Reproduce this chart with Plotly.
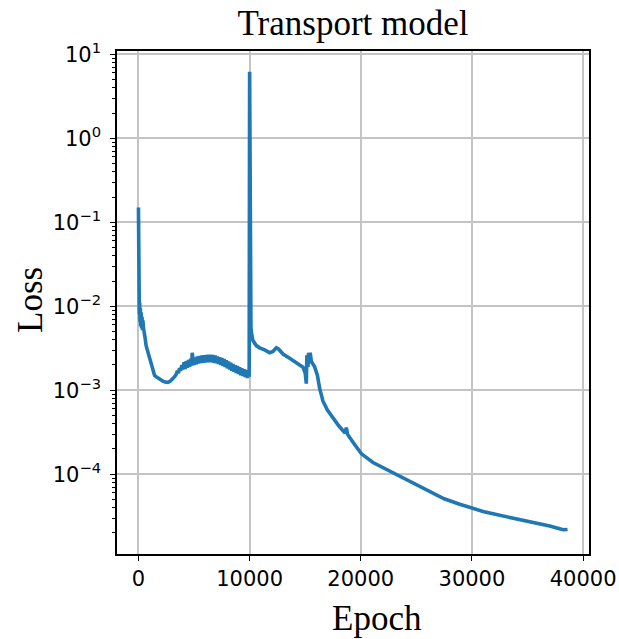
import plotly.graph_objects as go

# ---- data ----
epochs = [
    0, 15, 30, 50, 80, 110, 140, 170, 200, 240, 280, 320, 360, 400, 450, 520,
    600, 690, 800, 900, 1000, 1140, 1300, 1450, 1600, 1800, 2000, 2200, 2400,
    2640, 2850, 3050, 3250, 3400,
    3500, 3600, 3700, 3800, 3900, 4000, 4100, 4200, 4300, 4400, 4500, 4600,
    4700, 4800, 4830, 4900, 5000, 5100, 5200, 5300, 5400, 5500, 5600, 5700,
    5800, 5900, 6000, 6100, 6200, 6300, 6400, 6500, 6600, 6700, 6800, 6900,
    7000, 7100, 7200, 7300, 7400, 7500, 7600, 7700, 7800, 7900, 8000, 8100,
    8200, 8300, 8400, 8500, 8600, 8700, 8800, 8900, 9000, 9100, 9200, 9300,
    9400, 9500, 9600, 9700, 9800, 9900, 9960,
    10000, 10020, 10050, 10080, 10120, 10200, 10300, 10600, 10900, 11400,
    11800, 12100, 12400, 12600, 13000, 13600, 14200, 14800, 15000, 15100,
    15150, 15250, 15300, 15400, 15450, 15550, 15850, 16100, 16300, 16600,
    17000, 17500, 18000, 18400, 18600, 18700, 18800, 19300, 20060, 21100,
    22000, 22900, 24000, 25000, 26500, 27500, 28900, 30100, 31000, 32000,
    33100, 34000, 35000, 36100, 37000, 37800, 38200, 38600,
]
loss = [
    0.15, 0.05, 0.02, 0.012, 0.0080, 0.011, 0.0065, 0.0095, 0.0058, 0.0085,
    0.0055, 0.0075, 0.0052, 0.0068, 0.0055, 0.0050,
    0.0042, 0.0034, 0.0030, 0.0027, 0.0025, 0.0020, 0.0017, 0.0015, 0.00145,
    0.00138, 0.00132, 0.00128, 0.00125,
    0.00124, 0.00128, 0.00135, 0.00145, 0.00155,
    0.00170, 0.00160, 0.00183, 0.00171, 0.00199, 0.00177, 0.00215, 0.00179,
    0.00222, 0.00185, 0.00230, 0.00191,
    0.00237, 0.00196, 0.00280, 0.00242, 0.00200, 0.00246, 0.00204, 0.00252,
    0.00208, 0.00255, 0.00211, 0.00259,
    0.00212, 0.00261, 0.00214, 0.00263, 0.00216, 0.00264, 0.00216, 0.00264,
    0.00215, 0.00262, 0.00213, 0.00259,
    0.00210, 0.00253, 0.00205, 0.00248, 0.00200, 0.00242, 0.00195, 0.00235,
    0.00189, 0.00228, 0.00183, 0.00220,
    0.00177, 0.00213, 0.00171, 0.00206, 0.00166, 0.00199, 0.00161, 0.00194,
    0.00156, 0.00188, 0.00151, 0.00183,
    0.00148, 0.00178, 0.00144, 0.00174, 0.00140, 0.00171, 0.00145,
    6.2, 0.3, 0.02, 0.008, 0.0055, 0.0045, 0.0039, 0.0034, 0.0032, 0.0030,
    0.0028, 0.0029, 0.0032, 0.0031, 0.0027, 0.0024, 0.0021, 0.00188, 0.0016, 0.0012,
    0.0026, 0.0019, 0.0028, 0.0021, 0.0028, 0.0022, 0.0019, 0.0015, 0.00105, 0.00074,
    0.00058, 0.00046, 0.00038, 0.00033, 0.00031, 0.00036, 0.00030, 0.00024, 0.000175, 0.000138,
    0.000120, 0.000105, 0.000090, 0.000076, 0.000061, 0.000051, 0.000044, 0.000039, 0.000036, 0.0000335,
    0.0000312, 0.0000298, 0.0000280, 0.0000260, 0.0000242, 0.0000226, 0.0000218, 0.0000220,
]

x_ticks = [0, 10000, 20000, 30000, 40000]
x_tick_labels = ["0", "10000", "20000", "30000", "40000"]
y_ticks = [1e-4, 1e-3, 1e-2, 1e-1, 1e0, 1e1]
y_tick_labels = ["10<sup>−4</sup>", "10<sup>−3</sup>", "10<sup>−2</sup>",
                 "10<sup>−1</sup>", "10<sup>0</sup>", "10<sup>1</sup>"]

SERIF = "Liberation Serif, Times New Roman, serif"
SANS = "DejaVu Sans, sans-serif"

fig = go.Figure()
fig.add_trace(go.Scatter(
    x=epochs, y=loss, mode="lines",
    line=dict(color="#1f77b4", width=3.6),
    showlegend=False,
))

axis_common = dict(
    showline=True, linecolor="black", linewidth=1.5, mirror=True,
    ticks="outside", ticklen=5, tickwidth=1.3, tickcolor="black",
    showgrid=True, gridcolor="#c4c4c4", gridwidth=1.5,
    zeroline=False, automargin=False,
    tickfont=dict(family=SANS, size=21, color="black"),
)

fig.update_xaxes(
    range=[-1930, 40530], tickmode="array", tickvals=x_ticks,
    ticktext=x_tick_labels, **axis_common,
)
fig.update_yaxes(
    type="log", range=[-4.95, 1.04], tickmode="array", tickvals=y_ticks,
    ticktext=y_tick_labels, ticklabelstandoff=5,
    minor=dict(ticks="outside", ticklen=3, tickcolor="black", tickwidth=1,
               dtick="D1", showgrid=False),
    **axis_common,
)

fig.update_layout(
    width=619, height=639, autosize=False,
    margin=dict(l=117, r=30, t=51, b=85),
    paper_bgcolor="white", plot_bgcolor="white",
    title=dict(text="Transport model", x=0.5, xanchor="center", xref="paper",
               y=1 - 23 / 639, yref="container", yanchor="middle",
               font=dict(family=SERIF, size=35, color="black")),
    annotations=[
        dict(text="Loss", xref="paper", yref="paper",
             x=(30 - 117) / 472, y=(554 - 300) / 503,
             xanchor="center", yanchor="middle", textangle=-90, showarrow=False,
             font=dict(family=SERIF, size=35, color="black")),
        dict(text="Epoch", xref="paper", yref="paper",
             x=(377 - 117) / 472, y=(554 - 618) / 503,
             xanchor="center", yanchor="middle", showarrow=False,
             font=dict(family=SERIF, size=35, color="black")),
    ],
)

fig.write_html("out.html")
